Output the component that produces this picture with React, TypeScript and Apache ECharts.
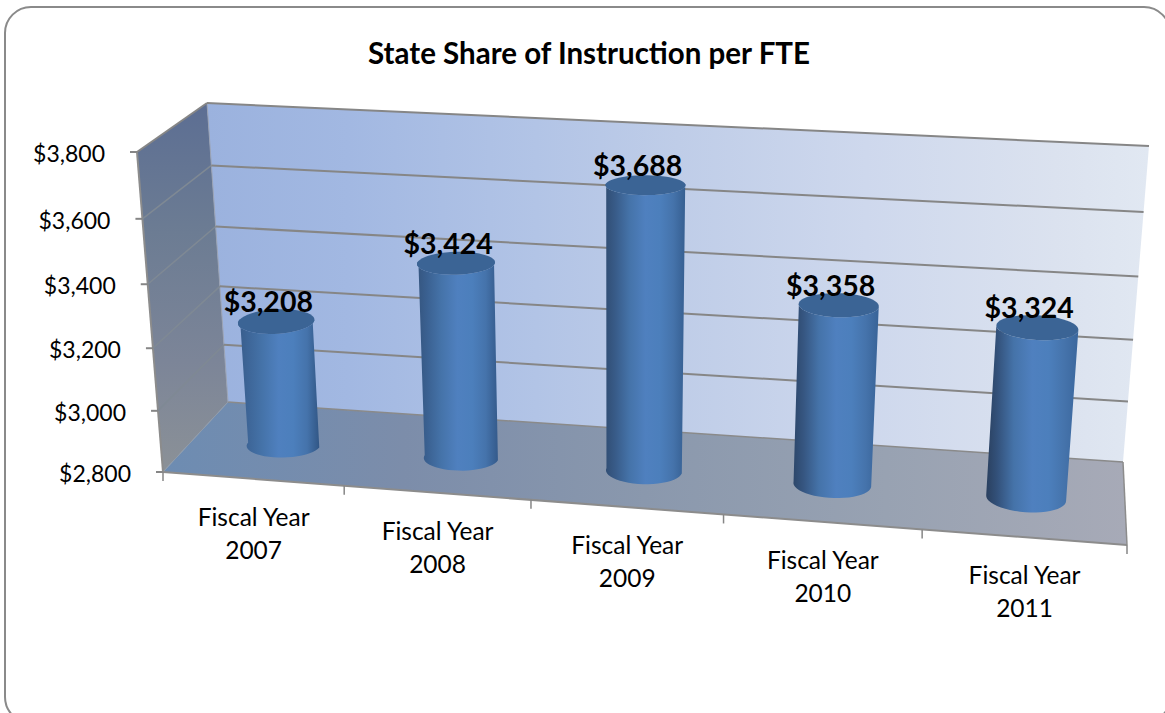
import React, { useEffect, useRef } from "react";
import * as echarts from "echarts";

const categories = ["Fiscal Year\n2007", "Fiscal Year\n2008", "Fiscal Year\n2009", "Fiscal Year\n2010", "Fiscal Year\n2011"];
const values = [3208, 3424, 3688, 3358, 3324];
const yTicks = [2800, 3000, 3200, 3400, 3600, 3800];

const GRID = { left: 163, top: 152, width: 964, height: 320 };
const FONT = "Lato, Carlito, sans-serif";
type P = [number, number];

// perspective box: unit square -> quad (Heckbert) for the floor, plus an "up" vector varying over the floor
function makeHomography(a: P, b: P, c: P, d: P) {
  // (0,0)->a (1,0)->b (1,1)->c (0,1)->d
  const dx1 = b[0] - c[0], dx2 = d[0] - c[0], sx = a[0] - b[0] + c[0] - d[0];
  const dy1 = b[1] - c[1], dy2 = d[1] - c[1], sy = a[1] - b[1] + c[1] - d[1];
  const den = dx1 * dy2 - dx2 * dy1;
  const g = (sx * dy2 - dx2 * sy) / den;
  const h = (dx1 * sy - sx * dy1) / den;
  const A = b[0] - a[0] + g * b[0], B = d[0] - a[0] + h * d[0];
  const D = b[1] - a[1] + g * b[1], E = d[1] - a[1] + h * d[1];
  return (u: number, v: number): P => {
    const w = g * u + h * v + 1;
    return [(A * u + B * v + a[0]) / w, (D * u + E * v + a[1]) / w];
  };
}
const floorPlane = makeHomography([163, 472], [1127, 545], [1123, 462], [228, 402]);
const UP_FL: P = [-26, -320], UP_FR: P = [28, -355], UP_BR: P = [26, -316], UP_BL: P = [-21, -299];
function project(u: number, d: number, t: number): P {
  const f = floorPlane(u + 0.03 * u * (1 - u), d);
  const k = t - 0.055 * t * (1 - t);
  const up = [0, 1].map(
    (n) => (1 - d) * ((1 - u) * UP_FL[n] + u * UP_FR[n]) + d * ((1 - u) * UP_BL[n] + u * UP_BR[n]),
  );
  return [f[0] + up[0] * k, f[1] + up[1] * k];
}

const tOf = (y: number) => (GRID.top + GRID.height - y) / GRID.height;
const uOf = (x: number) => (x - GRID.left) / GRID.width;
const LINE = "#868686";

function lerpColor(a: number[], b: number[], k: number) {
  const c = a.map((v, i) => Math.round(v + (b[i] - v) * k));
  return `rgb(${c[0]},${c[1]},${c[2]})`;
}

function renderWalls() {
  const grad = (stops: [number, string][], x2 = 1, y2 = 0) =>
    new echarts.graphic.LinearGradient(0, 0, x2, y2, stops.map(([offset, color]) => ({ offset, color })));
  const poly = (pts: P[], fill: any) => ({ type: "polygon", shape: { points: pts }, style: { fill } });
  const line = (a: P, b: P, w = 2, stroke = LINE) => ({
    type: "line",
    shape: { x1: a[0], y1: a[1], x2: b[0], y2: b[1] },
    style: { stroke, lineWidth: w },
  });
  return {
    type: "group",
    children: [
      poly([project(0, 1, 0), project(1, 1, 0), project(1, 1, 1), project(0, 1, 1)],
        grad([[0, "#9bb2de"], [0.15, "#a2b8e2"], [0.35, "#b2c4e6"], [0.5, "#bfcde8"], [0.7, "#ced8ed"], [0.9, "#dbe2ef"], [1, "#e1e8f2"]])),
      poly([project(0, 0, 0), project(0, 1, 0), project(0, 1, 1), project(0, 0, 1)],
        grad([[0, "#5c6e93"], [0.35, "#6c7c93"], [0.7, "#7c8598"], [1, "#8b9197"]], 0, 1)),
      poly([project(0, 0, 0), project(1, 0, 0), project(1, 1, 0), project(0, 1, 0)],
        grad([[0, "#6d8cb2"], [0.25, "#7c8daa"], [0.5, "#8a98ad"], [0.75, "#98a2b2"], [1, "#a7aab7"]])),
      line(project(0, 0, 0), project(1, 0, 0), 2, "#8c8c8c"),
      line(project(1, 0, 0), project(1, 1, 0), 1.5, "#8c8c8c"),
      line(project(0, 1, 0), project(1, 1, 0), 1.5, "#8a8a8a"),
      line(project(0, 0, 0), project(0, 1, 0), 1, "#8f9aa8"),
      line(project(0, 0, 0), project(0, 0, 1), 2, "#8c8c8c"),
      line(project(0, 1, 0), project(0, 1, 1), 1, "#9aa3b5"),
    ],
  };
}

function renderTick(params: any, api: any) {
  const value = api.value(0);
  const t = tOf(api.coord([0, value])[1]);
  const a = project(0, 0, t), b = project(0, 1, t), c = project(1, 1, t);
  const children: any[] = [
    { type: "line", shape: { x1: a[0] - 7, y1: a[1], x2: a[0], y2: a[1] }, style: { stroke: LINE, lineWidth: 2 } },
    {
      type: "text",
      style: {
        text: "$" + value.toLocaleString("en-US"),
        x: a[0] - 32,
        y: a[1] + 1,
        align: "right",
        verticalAlign: "middle",
        fontFamily: FONT,
        fontSize: 23,
        fill: "#000",
      },
    },
  ];
  if (t > 0) {
    children.push(
      { type: "line", shape: { x1: a[0], y1: a[1], x2: b[0], y2: b[1] }, style: { stroke: t === 1 ? LINE : "#7f8994", lineWidth: t === 1 ? 2 : 1.5 } },
      { type: "line", shape: { x1: b[0], y1: b[1], x2: c[0], y2: c[1] }, style: { stroke: LINE, lineWidth: 2 } },
    );
  }
  return { type: "group", children };
}

function renderCategory(params: any, api: any) {
  const i = api.value(0);
  const uC = uOf(api.coord([i, 0])[0]);
  const band = api.size([1, 0])[0] / GRID.width;
  const e = project(uC - band / 2, 0, 0);
  const f = project(uC + band / 2, 0, 0);
  const mid: P = [(e[0] + f[0]) / 2, (e[1] + f[1]) / 2];
  const children: any[] = [
    { type: "line", shape: { x1: e[0], y1: e[1], x2: e[0], y2: e[1] + 9 }, style: { stroke: LINE, lineWidth: 1.5 } },
    {
      type: "text",
      style: {
        text: categories[i],
        x: mid[0],
        y: mid[1] + 54,
        align: "center",
        verticalAlign: "middle",
        lineHeight: 33,
        fontFamily: FONT,
        fontSize: 24.5,
        fill: "#000",
      },
    },
  ];
  if (i === categories.length - 1) {
    children.push({ type: "line", shape: { x1: f[0], y1: f[1], x2: f[0], y2: f[1] + 9 }, style: { stroke: LINE, lineWidth: 1.5 } });
  }
  return { type: "group", children };
}

function renderBar(params: any, api: any) {
  const i = api.value(0);
  const value = api.value(1);
  const pos = api.coord([i, value]);
  const rawU = uOf(pos[0]);
  const u = rawU + 0.003 * (1 - rawU);
  const t = tOf(pos[1]);
  const ru = 0.0405, rd = 0.17, dC = 0.46, n = 48;
  const ring = (h: number, from: number, to: number, count: number) => {
    const pts: P[] = [];
    const rdH = h > 0 ? rd * 1.15 : rd;
    for (let k = 0; k <= count; k++) {
      const a = from + ((to - from) * k) / count;
      pts.push(project(u + ru * Math.cos(a), dC + rdH * Math.sin(a), h));
    }
    return pts;
  };
  // side: front half of the base, then back along the top
  const side = [...ring(0, Math.PI, 2 * Math.PI, n / 2), ...ring(t, 2 * Math.PI, Math.PI, n / 2)];
  const cap = ring(t, 0, 2 * Math.PI, n);
  const topC = project(u, dC, t);
  const leftEdge = lerpColor([58, 96, 143], [40, 60, 90], u);
  const rightEdge = lerpColor([48, 84, 130], [60, 105, 160], u);
  const sideFill = new echarts.graphic.LinearGradient(0, 0, 1, 0, [
    { offset: 0, color: leftEdge },
    { offset: 0.12, color: lerpColor([62, 104, 155], [50, 78, 118], u) },
    { offset: 0.3, color: "#4573a9" },
    { offset: 0.5, color: "#4f80bf" },
    { offset: 0.68, color: "#4c7fbc" },
    { offset: 0.85, color: "#4573ab" },
    { offset: 1, color: rightEdge },
  ]);
  return {
    type: "group",
    children: [
      { type: "polygon", shape: { points: side }, style: { fill: sideFill } },
      { type: "polygon", shape: { points: cap }, style: { fill: "#3b6495" } },
      {
        type: "text",
        style: {
          text: "$" + value.toLocaleString("en-US"),
          x: topC[0] - 8,
          y: topC[1] - 20,
          align: "center",
          verticalAlign: "middle",
          fontFamily: FONT,
          fontWeight: "bold",
          fontSize: 28.5,
          fill: "#000",
        },
      },
    ],
  };
}

export default function App() {
  const ref = useRef<HTMLDivElement>(null);
  useEffect(() => {
    document.body.style.margin = "0";
    const chart = echarts.init(ref.current!, undefined, { renderer: "svg" });
    chart.setOption({
      animation: false,
      backgroundColor: "#ffffff",
      title: {
        text: "State Share of Instruction per FTE",
        left: 584,
        top: 32,
        textAlign: "center",
        textStyle: { fontFamily: FONT, fontWeight: "bold", fontSize: 29.5, color: "#000" },
      },
      graphic: [
        {
          type: "rect",
          shape: { x: 5, y: 7, width: 1165, height: 716, r: 26 },
          style: { fill: "none", stroke: "#8a8a8a", lineWidth: 2 },
          silent: true,
        },
      ],
      grid: { ...GRID },
      xAxis: { type: "category", data: categories, show: false },
      yAxis: { type: "value", min: 2800, max: 3800, interval: 200, show: false },
      series: [
        { type: "custom", name: "walls", coordinateSystem: "cartesian2d", data: [[0, 2800]], renderItem: renderWalls, clip: false, silent: true, z: 1 },
        { type: "custom", name: "ticks", coordinateSystem: "cartesian2d", data: yTicks.map((v) => [v]), encode: { x: [], y: 0 }, renderItem: renderTick, clip: false, silent: true, z: 2 },
        { type: "custom", name: "categories", coordinateSystem: "cartesian2d", data: categories.map((_, i) => [i]), encode: { x: 0, y: [] }, renderItem: renderCategory, clip: false, silent: true, z: 2 },
        { type: "custom", name: "State Share of Instruction per FTE", coordinateSystem: "cartesian2d", data: values.map((v, i) => [i, v]), encode: { x: 0, y: 1 }, renderItem: renderBar, clip: false, z: 3 },
      ],
    });
    return () => chart.dispose();
  }, []);
  return <div ref={ref} style={{ width: 1165, height: 713 }} />;
}
